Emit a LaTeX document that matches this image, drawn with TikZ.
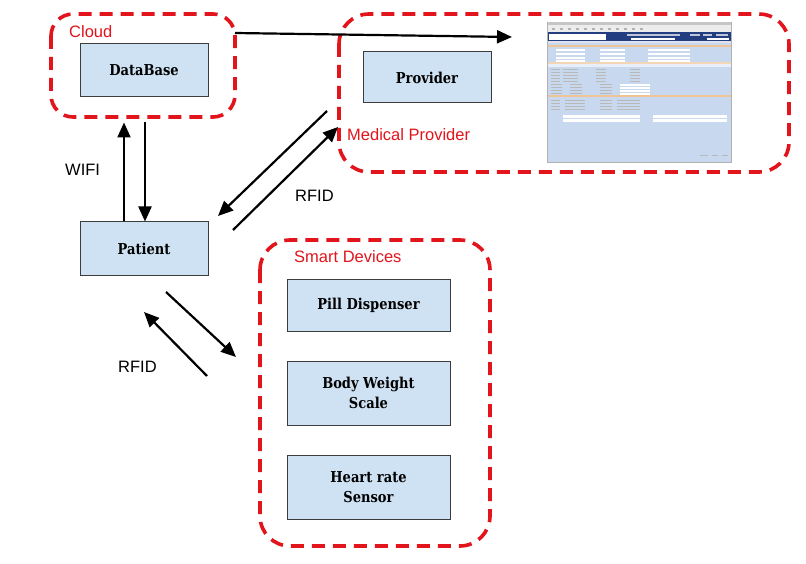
\documentclass[tikz,border=0pt]{standalone}
\usepackage{fontspec}
\setmainfont{DejaVu Serif}
\newfontfamily\boxfont[FakeStretch=0.87]{DejaVu Serif}
\newfontfamily\labfont{Liberation Sans}
\usetikzlibrary{arrows.meta}
\definecolor{grpred}{RGB}{226,20,28}
\definecolor{boxfill}{RGB}{207,226,243}
\definecolor{boxline}{RGB}{60,60,60}
\definecolor{scrbg}{RGB}{200,216,238}
\definecolor{scrblue}{RGB}{34,62,128}
\definecolor{scrorange}{RGB}{238,196,150}
\begin{document}
\begin{tikzpicture}[x=1pt,y=-1pt,
 group/.style={draw=grpred, line width=3.6pt, dash pattern=on 13pt off 8pt, rounded corners=#1},
 box/.style={draw=boxline, fill=boxfill, line width=1pt, font=\boxfont\bfseries\fontsize{15}{20}\selectfont, align=center, inner sep=0pt},
 grplabel/.style={text=grpred, font=\labfont\fontsize{16.5}{18}\selectfont, anchor=west, inner sep=0pt},
 lab/.style={font=\labfont\fontsize{16.5}{18}\selectfont, anchor=west, inner sep=0pt},
 arr/.style={draw=black, line width=2.2pt, -{Triangle[length=15pt,width=13pt]}}
]
\useasboundingbox (0,0) rectangle (806,564);
\fill[white] (0,0) rectangle (806,564);

% groups
\draw[group=22pt] (51,14) rectangle (235,117);
\draw[group=30pt] (339,14) rectangle (789,172);
\draw[group=30pt] (260,240) rectangle (490,546);
\node[grplabel] (lcloud) at (69,32) {Cloud};
\node[grplabel] (lmed) at (347,135) {Medical Provider};
\node[grplabel] (lsmart) at (294,257) {Smart Devices};

% boxes
\node[box, minimum width=128pt, minimum height=53pt] (database) at (144,70.5) {DataBase};
\node[box, minimum width=128pt, minimum height=51pt] (provider) at (427,77.5) {Provider};
\node[box, minimum width=128pt, minimum height=53pt] (patient) at (144,248.5) {Patient};
\node[box, minimum width=163pt, minimum height=52pt] (pill) at (368.5,305) {Pill Dispenser};
\node[box, minimum width=163pt, minimum height=64pt] (scale) at (368.5,393) {Body Weight\\Scale};
\node[box, minimum width=163pt, minimum height=64pt] (heart) at (368.5,487) {Heart rate\\Sensor};

% screenshot
\node[draw=gray!60, fill=scrbg, minimum width=184pt, minimum height=140pt, inner sep=0pt, anchor=north west] (screen) at (547,22) {};
\fill[gray!45] (547.5,22.5) rectangle (730.5,25.5);
\fill[gray!15] (547.5,25.5) rectangle (730.5,32.5);
\foreach \x in {552,560,568,576,584,592,600,608,616,624,632,640} \fill[gray!60] (\x,28) rectangle (\x+3,30.5);
\fill[scrblue] (547.5,32.5) rectangle (730.5,41);
\fill[white] (549,34) rectangle (606,40);
\fill[white!70!scrblue] (627,34) rectangle (680,36);
\fill[white!70!scrblue] (690,34) rectangle (700,36);
\fill[white!70!scrblue] (703,34) rectangle (712,36);
\fill[white!70!scrblue] (716,34) rectangle (728,36);
\fill[white] (631,38) rectangle (675,40);
\fill[white] (707,38) rectangle (729,40);
\fill[white!85!scrblue] (547.5,41) rectangle (730.5,43.5);
\fill[scrorange] (547.5,45) rectangle (730.5,47.5);
\foreach \y in {49.5,53,57,60.5} {
  \fill[white] (556,\y) rectangle (585,\y+2);
  \fill[white] (600,\y) rectangle (625,\y+2);
  \fill[white] (648,\y) rectangle (690,\y+2);
}
\fill[scrorange!70!white] (547.5,62.5) rectangle (730.5,64.5);
\fill[white!60!scrbg] (547.5,64.5) rectangle (730.5,67);
\foreach \y in {69,72,75,78,81} {
  \fill[gray!55] (551,\y) rectangle (560,\y+1.2);
  \fill[gray!55] (563,\y) rectangle (578,\y+1.2);
  \fill[gray!55] (596,\y) rectangle (606,\y+1.2);
  \fill[gray!55] (630,\y) rectangle (640,\y+1.2);
}
\foreach \y in {84,87,90,93} {
  \fill[gray!55] (551,\y) rectangle (562,\y+1.2);
  \fill[gray!55] (570,\y) rectangle (582,\y+1.2);
  \fill[gray!55] (600,\y) rectangle (612,\y+1.2);
  \fill[white] (620,\y) rectangle (650,\y+2);
}
\fill[scrorange] (547.5,95) rectangle (730.5,97.5);
\foreach \y in {100,103,106,109} {
  \fill[gray!55] (551,\y) rectangle (560,\y+1.2);
  \fill[gray!55] (565,\y) rectangle (585,\y+1.2);
  \fill[gray!55] (600,\y) rectangle (612,\y+1.2);
  \fill[gray!55] (617,\y) rectangle (640,\y+1.2);
}
\fill[white] (563,115) rectangle (640,118);
\fill[white] (653,115) rectangle (727,118);
\fill[white] (563,119.5) rectangle (640,122);
\fill[white] (653,119.5) rectangle (727,122);
\fill[gray!55] (700,155) rectangle (708,156.5);
\fill[gray!55] (712,155) rectangle (718,156.5);
\fill[gray!55] (722,155) rectangle (728,156.5);

% coordinates for connector ends
\coordinate (cloudout) at (235,33);
\coordinate (screenin) at (512,37);
\coordinate (provA) at (327,111);
\coordinate (patA) at (218,216);
\coordinate (patB) at (233,230);
\coordinate (provB) at (338,127);
\coordinate (patC) at (166,292);
\coordinate (devC) at (236,357);
\coordinate (devD) at (207,376);
\coordinate (patD) at (144,312);

% connectors
\draw[arr] ([xshift=-20pt]patient.north) -- ([xshift=-20pt,yshift=-25pt]database.south);
\draw[arr] ([xshift=1pt,yshift=-25pt]database.south) -- ([xshift=1pt]patient.north);
\draw[arr] (cloudout) -- (screenin);
\draw[arr] (provA) -- (patA);
\draw[arr] (patB) -- (provB);
\draw[arr] (patC) -- (devC);
\draw[arr] (devD) -- (patD);

% labels
\node[lab] (lwifi) at (65,170) {WIFI};
\node[lab] (lrfid1) at (295,196) {RFID};
\node[lab] (lrfid2) at (118,367) {RFID};
\end{tikzpicture}
\end{document}
